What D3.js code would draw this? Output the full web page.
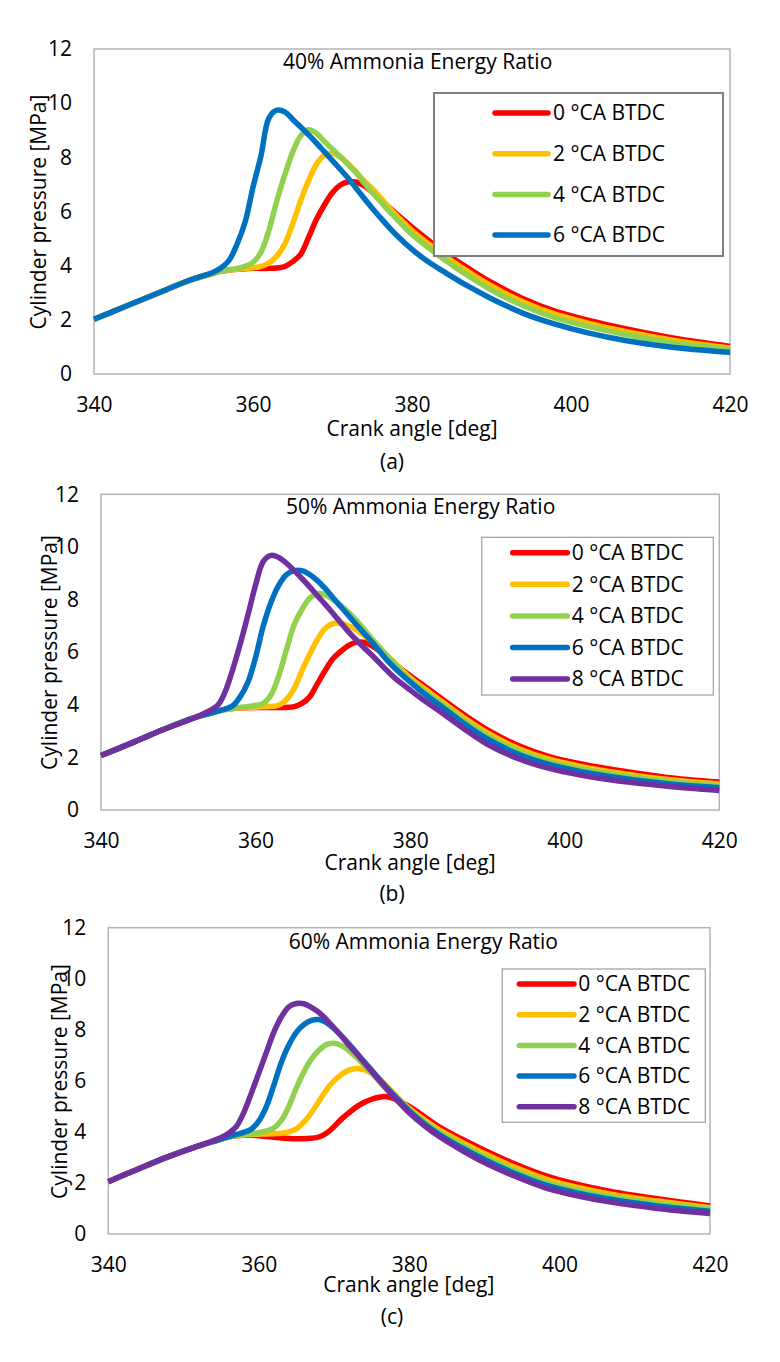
<!DOCTYPE html>
<html>
<head>
<meta charset="utf-8">
<script src="https://cdn.jsdelivr.net/npm/d3@7/dist/d3.min.js"></script>
<style>
body { margin: 0; background: #fff; }
svg text { font-family: 'Open Sans', sans-serif; fill: #000; }
</style>
</head>
<body>
<div id="chart"></div>
<script>
// crank angle samples shared by every series [deg]
const angle = [340, 344, 348, 352, 355,
    356, 357, 358, 359, 360, 361, 362, 363, 364, 365, 366, 367, 368, 369, 370, 371, 372, 373, 374, 375, 376, 377, 378,
    380, 382, 384, 387, 390, 394, 398, 402, 407, 413, 420];

// 40% ammonia energy ratio, cylinder pressure [MPa]
const p40_0 = [2.02, 2.50, 2.98, 3.46, 3.72,
    3.80, 3.84, 3.87, 3.89, 3.90, 3.90, 3.90, 3.91, 3.97, 4.15, 4.42, 5.05, 5.72, 6.25, 6.70, 6.98, 7.10, 7.08, 6.95, 6.72, 6.45, 6.18, 5.92,
    5.42, 4.95, 4.50, 3.92, 3.38, 2.78, 2.32, 2.00, 1.66, 1.32, 1.02];
const p40_2 = [2.02, 2.50, 2.98, 3.46, 3.72,
    3.80, 3.84, 3.87, 3.90, 3.92, 3.97, 4.10, 4.35, 4.80, 5.55, 6.40, 7.15, 7.75, 8.08, 8.15, 8.00, 7.75, 7.45, 7.12, 6.85, 6.52, 6.18, 5.86,
    5.30, 4.82, 4.38, 3.79, 3.25, 2.66, 2.21, 1.89, 1.56, 1.24, 0.96];
const p40_4 = [2.02, 2.50, 2.98, 3.46, 3.72,
    3.80, 3.85, 3.90, 3.98, 4.12, 4.50, 5.30, 6.40, 7.35, 8.20, 8.80, 9.02, 8.88, 8.58, 8.30, 8.02, 7.72, 7.42, 7.05, 6.70, 6.38, 6.05, 5.75,
    5.15, 4.68, 4.24, 3.64, 3.10, 2.52, 2.08, 1.77, 1.45, 1.15, 0.90];
const p40_6 = [2.02, 2.50, 2.98, 3.46, 3.76,
    3.92, 4.20, 4.80, 5.60, 6.90, 8.05, 9.45, 9.74, 9.68, 9.40, 9.12, 8.83, 8.52, 8.20, 7.88, 7.55, 7.22, 6.85, 6.48, 6.12, 5.78, 5.45, 5.14,
    4.60, 4.15, 3.78, 3.25, 2.78, 2.24, 1.84, 1.53, 1.23, 0.98, 0.80];

// 50% ammonia energy ratio
const p50_0 = [2.07, 2.55, 3.05, 3.50, 3.75,
    3.82, 3.86, 3.88, 3.89, 3.90, 3.90, 3.90, 3.90, 3.90, 3.93, 4.05, 4.30, 4.80, 5.30, 5.75, 6.02, 6.25, 6.37, 6.38, 6.25, 6.05, 5.80, 5.55,
    5.10, 4.68, 4.25, 3.62, 3.05, 2.45, 2.03, 1.76, 1.50, 1.25, 1.06];
const p50_2 = [2.07, 2.55, 3.05, 3.50, 3.75,
    3.82, 3.86, 3.88, 3.90, 3.91, 3.92, 3.94, 3.98, 4.20, 4.62, 5.30, 5.92, 6.48, 6.90, 7.08, 7.10, 7.00, 6.85, 6.65, 6.42, 6.15, 5.88, 5.60,
    5.02, 4.58, 4.14, 3.50, 2.93, 2.34, 1.93, 1.66, 1.41, 1.17, 0.99];
const p50_4 = [2.07, 2.55, 3.05, 3.50, 3.75,
    3.82, 3.86, 3.90, 3.93, 3.98, 4.05, 4.38, 5.10, 6.10, 7.05, 7.62, 8.05, 8.22, 8.18, 8.00, 7.78, 7.52, 7.22, 6.88, 6.52, 6.20, 5.85, 5.55,
    4.94, 4.48, 4.04, 3.39, 2.82, 2.23, 1.83, 1.57, 1.32, 1.10, 0.92];
const p50_6 = [2.07, 2.55, 3.05, 3.50, 3.75,
    3.83, 3.95, 4.30, 4.85, 5.80, 7.00, 7.90, 8.55, 8.95, 9.10, 9.10, 8.95, 8.72, 8.42, 8.08, 7.74, 7.40, 7.06, 6.73, 6.40, 6.05, 5.70, 5.40,
    4.87, 4.38, 3.95, 3.28, 2.70, 2.12, 1.73, 1.47, 1.23, 1.01, 0.85];
const p50_8 = [2.07, 2.55, 3.05, 3.50, 3.95,
    4.45, 5.30, 6.30, 7.40, 8.55, 9.45, 9.68, 9.60, 9.38, 9.10, 8.80, 8.48, 8.15, 7.82, 7.48, 7.13, 6.78, 6.47, 6.18, 5.90, 5.60, 5.30, 5.02,
    4.56, 4.12, 3.72, 3.08, 2.50, 1.95, 1.58, 1.33, 1.10, 0.91, 0.74];

// 60% ammonia energy ratio
const p60_0 = [2.05, 2.55, 3.03, 3.45, 3.72,
    3.80, 3.85, 3.87, 3.87, 3.85, 3.82, 3.79, 3.76, 3.74, 3.73, 3.73, 3.75, 3.80, 3.95, 4.20, 4.50, 4.75, 4.98, 5.15, 5.28, 5.36, 5.38, 5.30,
    5.00, 4.60, 4.20, 3.72, 3.28, 2.75, 2.30, 1.97, 1.66, 1.38, 1.10];
const p60_2 = [2.05, 2.55, 3.03, 3.45, 3.72,
    3.80, 3.85, 3.88, 3.90, 3.91, 3.92, 3.93, 3.95, 4.00, 4.12, 4.38, 4.75, 5.20, 5.65, 6.00, 6.25, 6.42, 6.48, 6.44, 6.30, 6.08, 5.80, 5.50,
    4.92, 4.48, 4.08, 3.60, 3.15, 2.62, 2.17, 1.85, 1.55, 1.29, 1.03];
const p60_4 = [2.05, 2.55, 3.03, 3.45, 3.72,
    3.80, 3.85, 3.90, 3.93, 3.97, 4.03, 4.15, 4.45, 5.00, 5.72, 6.35, 6.85, 7.20, 7.42, 7.47, 7.38, 7.18, 6.92, 6.62, 6.30, 5.98, 5.67, 5.38,
    4.85, 4.40, 3.98, 3.48, 3.03, 2.50, 2.05, 1.74, 1.45, 1.20, 0.97];
const p60_6 = [2.05, 2.55, 3.03, 3.45, 3.72,
    3.82, 3.90, 3.98, 4.10, 4.42, 4.98, 5.82, 6.72, 7.40, 7.90, 8.20, 8.37, 8.40, 8.28, 8.05, 7.76, 7.44, 7.10, 6.76, 6.42, 6.08, 5.75, 5.43,
    4.83, 4.32, 3.90, 3.38, 2.92, 2.38, 1.93, 1.63, 1.35, 1.10, 0.89];
const p60_8 = [2.05, 2.55, 3.03, 3.45, 3.78,
    3.95, 4.20, 4.75, 5.50, 6.30, 7.10, 7.90, 8.50, 8.90, 9.03, 9.02, 8.88, 8.68, 8.40, 8.08, 7.75, 7.40, 7.07, 6.72, 6.38, 6.03, 5.68, 5.36,
    4.75, 4.25, 3.82, 3.28, 2.80, 2.27, 1.82, 1.52, 1.24, 1.00, 0.80];

const seriesLabels = ['0 °CA BTDC', '2 °CA BTDC', '4 °CA BTDC', '6 °CA BTDC', '8 °CA BTDC'];
const seriesColors = ['#ff0000', '#ffc000', '#92d050', '#0070c0', '#7030a0'];
const panelTitles = ['40% Ammonia Energy Ratio', '50% Ammonia Energy Ratio', '60% Ammonia Energy Ratio'];
const panelTags = ['(a)', '(b)', '(c)'];
const xTicks = [340, 360, 380, 400, 420];
const yTicks = [0, 2, 4, 6, 8, 10, 12];
const xTitle = 'Crank angle [deg]';
const yTitle = 'Cylinder pressure [MPa]';

// layout of the three stacked panels (pixels)
const panels = [
    { series: [p40_0, p40_2, p40_4, p40_6],
      plot: { l: 94, r: 730, t: 49, b: 374 },
      titleX: 283, titleY: 62, yTitleX: 39, yTitleY: 212, xTitleX: 412, xTitleY: 429, tagY: 462,
      legend: { l: 434, r: 723, t: 93, b: 256, x1: 495, x2: 548, tx: 553, y0: 113, dy: 40.7, stroke: '#7f7f7f', sw: 2 } },
    { series: [p50_0, p50_2, p50_4, p50_6, p50_8],
      plot: { l: 101, r: 719.3, t: 494.3, b: 810 },
      titleX: 286, titleY: 506.7, yTitleX: 50, yTitleY: 652.5, xTitleX: 410, xTitleY: 862.5, tagY: 893.3,
      legend: { l: 481.7, r: 713.3, t: 537.3, b: 695, x1: 512.7, x2: 567.3, tx: 571.7, y0: 552.7, dy: 31.6, stroke: '#a6a6a6', sw: 1.3 } },
    { series: [p60_0, p60_2, p60_4, p60_6, p60_8],
      plot: { l: 108.3, r: 710, t: 927.7, b: 1234 },
      titleX: 288.7, titleY: 941.7, yTitleX: 60, yTitleY: 1081.5, xTitleX: 408.8, xTitleY: 1284.5, tagY: 1316.7,
      legend: { l: 502.3, r: 705.3, t: 969, b: 1122.3, x1: 519.3, x2: 574, tx: 578.3, y0: 984, dy: 30.7, stroke: '#a6a6a6', sw: 1.3 } }
];

const width = 780, height = 1362;
const fontSize = 21;

const svg = d3.select('#chart').append('svg')
    .attr('width', width)
    .attr('height', height);

panels.forEach(function(p, pi) {
    let x = d3.scaleLinear().domain([340, 420]).range([p.plot.l, p.plot.r]);
    let y = d3.scaleLinear().domain([0, 12]).range([p.plot.b, p.plot.t]);

    let g = svg.append('g').attr('class', 'panel-' + pi);

    // plot area border
    g.append('rect')
        .attr('x', p.plot.l)
        .attr('y', p.plot.t)
        .attr('width', p.plot.r - p.plot.l)
        .attr('height', p.plot.b - p.plot.t)
        .style('fill', 'none')
        .style('stroke', '#b4b4b4')
        .style('stroke-width', 1.5);

    let xAxis = d3.axisBottom(x).tickValues(xTicks).tickSize(0).tickPadding(23);
    let yAxis = d3.axisLeft(y).tickValues(yTicks).tickSize(0).tickPadding(22);

    g.append('g')
        .attr('transform', 'translate(0,' + p.plot.b + ')')
        .call(xAxis)
        .call(function(a) { a.select('.domain').remove(); })
        .selectAll('text')
        .style('font-size', fontSize + 'px')
        .style('font-family', "'Open Sans', sans-serif");

    g.append('g')
        .attr('transform', 'translate(' + p.plot.l + ',0)')
        .call(yAxis)
        .call(function(a) { a.select('.domain').remove(); })
        .selectAll('text')
        .style('font-size', fontSize + 'px')
        .style('font-family', "'Open Sans', sans-serif");

    // pressure traces, first series at the bottom
    let line = d3.line()
        .x(function(d) { return x(d[0]); })
        .y(function(d) { return y(d[1]); })
        .curve(d3.curveCatmullRom.alpha(0.5));

    p.series.forEach(function(vals, si) {
        g.append('path')
            .datum(angle.map(function(a, i) { return [a, vals[i]]; }))
            .attr('d', line)
            .style('fill', 'none')
            .style('stroke', seriesColors[si])
            .style('stroke-width', 5.5)
            .style('stroke-linejoin', 'round');
    });

    // panel title
    g.append('text')
        .attr('x', p.titleX)
        .attr('y', p.titleY)
        .attr('dy', '0.35em')
        .style('font-size', fontSize + 'px')
        .text(panelTitles[pi]);

    // axis titles
    g.append('text')
        .attr('transform', 'translate(' + p.yTitleX + ',' + p.yTitleY + ') rotate(-90)')
        .attr('text-anchor', 'middle')
        .attr('dy', '0.35em')
        .style('font-size', fontSize + 'px')
        .text(yTitle);

    g.append('text')
        .attr('x', p.xTitleX)
        .attr('y', p.xTitleY)
        .attr('text-anchor', 'middle')
        .attr('dy', '0.35em')
        .style('font-size', fontSize + 'px')
        .text(xTitle);

    g.append('text')
        .attr('x', 392)
        .attr('y', p.tagY)
        .attr('text-anchor', 'middle')
        .attr('dy', '0.35em')
        .style('font-size', fontSize + 'px')
        .text(panelTags[pi]);

    // legend
    let lg = p.legend;
    g.append('rect')
        .attr('x', lg.l)
        .attr('y', lg.t)
        .attr('width', lg.r - lg.l)
        .attr('height', lg.b - lg.t)
        .style('fill', '#fff')
        .style('stroke', lg.stroke)
        .style('stroke-width', lg.sw);

    let rows = g.selectAll('.legend-row')
        .data(p.series.map(function(d, i) { return i; }))
        .enter()
        .append('g')
        .attr('class', 'legend-row')
        .attr('transform', function(i) { return 'translate(0,' + (lg.y0 + i * lg.dy) + ')'; });

    rows.append('line')
        .attr('x1', lg.x1)
        .attr('x2', lg.x2)
        .style('stroke', function(i) { return seriesColors[i]; })
        .style('stroke-width', 5.5)
        .style('stroke-linecap', 'round');

    rows.append('text')
        .attr('x', lg.tx)
        .attr('dy', '0.35em')
        .style('font-size', fontSize + 'px')
        .text(function(i) { return seriesLabels[i]; });
});
</script>
</body>
</html>
